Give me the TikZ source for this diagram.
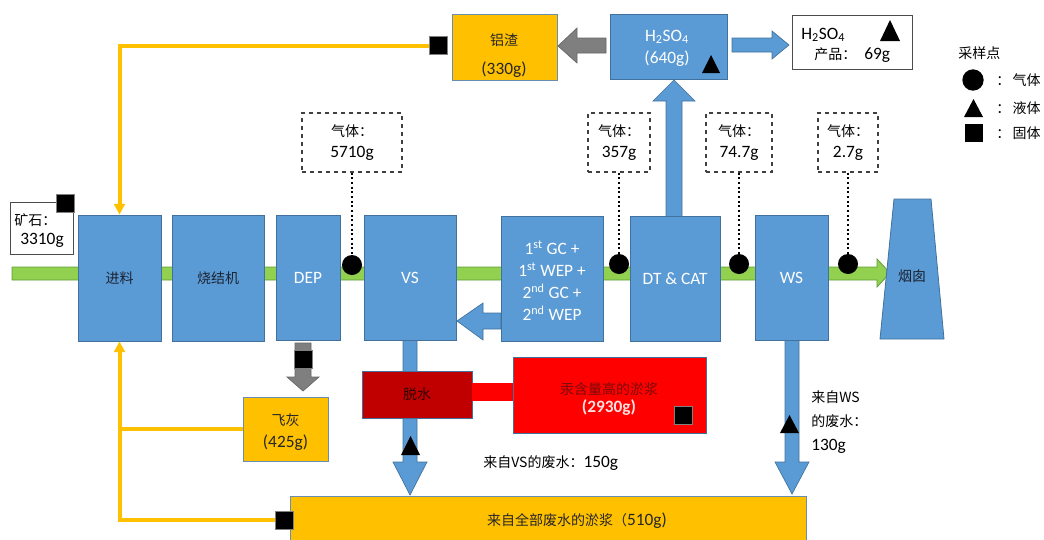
\documentclass[tikz,border=0pt]{standalone}
\usepackage{fontspec}
\setmainfont{Carlito}
\newfontfamily\cjk{Noto Sans CJK SC}
\usetikzlibrary{fit,arrows.meta}
\definecolor{bl}{HTML}{5B9BD5}
\definecolor{bld}{HTML}{41719C}
\definecolor{yl}{HTML}{FFC000}
\definecolor{gr}{HTML}{92D050}
\definecolor{grd}{HTML}{5E9E36}
\definecolor{dred}{HTML}{C00000}
\definecolor{rd}{HTML}{FF0000}
\definecolor{gy}{HTML}{7F7F7F}
\definecolor{txd}{HTML}{1C2333}
\definecolor{rtx}{HTML}{7A0A0A}
\definecolor{ptx}{HTML}{FFE0E0}
\newcommand\zh[1]{{\cjk\fontsize{10.5}{13}\selectfont #1}}
\begin{document}
\begin{tikzpicture}[x=0.75pt,y=-0.75pt,font=\fontsize{13}{16}\selectfont,
  bbox/.style={draw=bld,line width=0.6pt,fill=bl,inner sep=0pt},
  ybox/.style={draw=bld!80,line width=0.6pt,fill=yl,inner sep=0pt},
  dbox/.style={draw=black!75,dashed,line width=0.8pt,inner sep=0pt,fill=white},
  wbox/.style={draw=black!70,line width=0.6pt,fill=white,inner sep=0pt},
  samp/.style={circle,fill=black,minimum size=15pt,inner sep=0pt},
  sq/.style={fill=black,draw=black!50,line width=0.4pt,minimum size=13.5pt,inner sep=0pt},
  yline/.style={draw=yl,line width=3pt},
  ytip/.style={-{Triangle[length=8pt,width=8pt]}},
  dotl/.style={dotted,line width=1.5pt},
  barrow/.style={fill=bl,draw=bld,line width=0.5pt},
  garrow/.style={fill=gy,draw=gy!80!black,line width=0.5pt},
  lbl/.style={inner sep=0pt,align=center}]
\useasboundingbox (0,0) rectangle (1044,539);

% main gas stream
\fill[gr,draw=grd,line width=0.6pt] (12,267) -- (877,267) -- (877,259) -- (890,273) -- (877,287) -- (877,280) -- (12,280) -- cycle;

% block arrows (drawn under boxes)
\path[barrow] (666,217) -- (666,101) -- (653,101) -- (674,80) -- (695,101) -- (682,101) -- (682,217) -- cycle;
\path[barrow] (501,313) -- (483,313) -- (483,303) -- (457,321) -- (483,340) -- (483,329) -- (501,329) -- cycle;
\path[barrow] (403,340) -- (403,462) -- (393,462) -- (410,495) -- (427,462) -- (417,462) -- (417,340) -- cycle;
\path[barrow] (785,340) -- (785,462) -- (775,462) -- (792,494) -- (809,462) -- (799,462) -- (799,340) -- cycle;
\path[barrow] (732,38) -- (772,38) -- (772,31) -- (789,45) -- (772,59) -- (772,52) -- (732,52) -- cycle;
\path[garrow] (606,38) -- (577,38) -- (577,28) -- (558,46) -- (577,63) -- (577,53) -- (606,53) -- cycle;
\path[garrow] (295,343) -- (311,343) -- (311,377) -- (319,377) -- (303,391) -- (287,377) -- (295,377) -- cycle;

% process boxes
\node[bbox,fit={(78,215) (161,341)},label={[lbl,text=txd]center:\zh{进料}}] (feed) {};
\node[bbox,fit={(172,215) (264,341)},label={[lbl,text=txd]center:\zh{烧结机}}] (sinter) {};
\node[bbox,fit={(276,215) (340,340)},label={[lbl,text=white]center:DEP}] (dep) {};
\node[bbox,fit={(364,215) (456,340)},label={[lbl,text=white]center:VS}] (vs) {};
\node[bbox,fit={(501,216) (603,341)}] (gc) {};
\node[lbl,text=white,font=\fontsize{13}{16.5}\selectfont] (gct) at (552,281) {1\textsuperscript{st} GC +\\1\textsuperscript{st} WEP +\\2\textsuperscript{nd} GC +\\2\textsuperscript{nd} WEP};
\node[bbox,fit={(630,216) (720,341)},label={[lbl,text=white]center:DT \& CAT}] (dt) {};
\node[bbox,fit={(755,215) (828,340)},label={[lbl,text=white]center:WS}] (ws) {};
\fill[bl,draw=bld,line width=0.6pt] (894,199) -- (931,199) -- (944,339) -- (880,339) -- cycle;
\node[lbl,text=txd] (stack) at (912,276) {\zh{烟囱}};

% top row
\node[ybox,fit={(452,14) (557,80)}] (slag) {};
\node[lbl,text=black!85] (slagt) at (504,40) {\zh{铝渣}};
\node[lbl,text=black!85] (slagm) at (504,70) {(330g)};
\node[bbox,fit={(610,14) (727,79)}] (acid) {};
\node[lbl,text=white] (acidt) at (667,37) {H\textsubscript{2}SO\textsubscript{4}};
\node[lbl,text=white] (acidm) at (667,59) {(640g)};
\fill (702,73) -- (720,73) -- (711,55) -- cycle;
\node[wbox,fit={(792,15) (912,69)}] (prod) {};
\node[lbl,anchor=west] (prodt) at (801,35) {H\textsubscript{2}SO\textsubscript{4}};
\node[lbl,anchor=west] (prodm) at (814,55) {\zh{产品：}\hspace{6pt}69g};
\fill (880,41) -- (900,41) -- (890,20) -- cycle;

% sample squares and yellow return lines
\node[sq] (sqa) at (438.5,45.5) {};
\draw[yline,ytip] (sqa.west) -| (feed.north);
\node[ybox,fit={(243,397) (328,461)}] (ash) {};
\node[lbl,text=black!85] (asht) at (285.5,420) {\zh{飞灰}};
\node[lbl,text=black!85] (ashm) at (285.5,443) {(425g)};
\node[sq] (sqd) at (303,359.5) {};
\node[ybox,fit={(290,496) (806,541)}] (sludge) {};
\node[lbl,text=black!85] (sludget) at (577,521) {\zh{来自全部废水的淤浆（}510g)};
\node[sq] (sqb) at (284,520) {};
\draw[yline,ytip] (sqb.west) -| (feed.south);
\draw[yline] (ash.west) -- (ash.west -| feed.south);

% ore input
\node[wbox,fit={(10,202) (73,254)}] (ore) {};
\node[lbl,anchor=west] (oret) at (14,220) {\zh{矿石：}};
\node[lbl] (orem) at (42,240) {3310g};
\node[sq] (sqo) at (65,203) {};

% dewatering / mercury sludge
\node[fit={(362,371) (472,418)},fill=dred,draw=bld,line width=0.6pt,inner sep=0pt,label={[lbl,text=black!80!red]center:\zh{脱水}}] (dew) {};
\fill[rd] (472,383) rectangle (513,401);
\node[fit={(513,357) (706,433)},fill=rd,draw=bld,line width=0.6pt,inner sep=0pt] (hg) {};
\node[lbl,text=rtx] (hgt) at (609,389) {\zh{汞含量高的淤浆}};
\node[lbl,text=ptx,font=\fontsize{13}{16}\bfseries] (hgm) at (609,408) {(2930g)};
\node[sq] (sqh) at (683.5,415.5) {};

% liquid samples on waste-water arrows
\fill (401,455) -- (420,455) -- (410.5,436) -- cycle;
\fill (780,433) -- (799,433) -- (789.5,415) -- cycle;
\node[lbl,anchor=west] (vsw) at (483,463) {\zh{来自VS的废水：}150g};
\node[lbl,anchor=north west,align=left,font=\fontsize{13}{18}\selectfont] (wsw) at (811,390) {\zh{来自WS}\\\zh{的废水：}\\130g};

% gas sample points
\node[samp] (c1) at (352,265) {};
\node[samp] (c2) at (619,264) {};
\node[samp] (c3) at (739,264) {};
\node[samp] (c4) at (848,264) {};
\node[dbox,fit={(302,113) (402,172)}] (g1) {};
\node[dbox,fit={(588,113) (650,172)}] (g2) {};
\node[dbox,fit={(706,113) (772,172)}] (g3) {};
\node[dbox,fit={(818,113) (878,172)}] (g4) {};
\node[lbl] (g1t) at (g1) {\zh{气体：}\\5710g};
\node[lbl] (g2t) at (g2) {\zh{气体：}\\357g};
\node[lbl] (g3t) at (g3) {\zh{气体：}\\74.7g};
\node[lbl] (g4t) at (g4) {\zh{气体：}\\2.7g};
\draw[dotl] (g1.south) -- (c1.north);
\draw[dotl] (g2.south) -- (c2.north);
\draw[dotl] (g3.south) -- (c3.north);
\draw[dotl] (g4.south) -- (c4.north);

% legend
\node[lbl,anchor=west] (leg) at (958,53) {\zh{采样点}};
\node[samp,minimum size=16pt] (lc) at (973,80) {};
\node[lbl,anchor=west] (lct) at (996,80) {\zh{：\,气体}};
\fill (964,117) -- (983,117) -- (973.5,99) -- cycle;
\node[lbl,anchor=west] (ltt) at (996,108) {\zh{：\,液体}};
\node[sq,draw=none] (ls) at (974,132.5) {};
\node[lbl,anchor=west] (lst) at (996,133) {\zh{：\,固体}};
\end{tikzpicture}
\end{document}
